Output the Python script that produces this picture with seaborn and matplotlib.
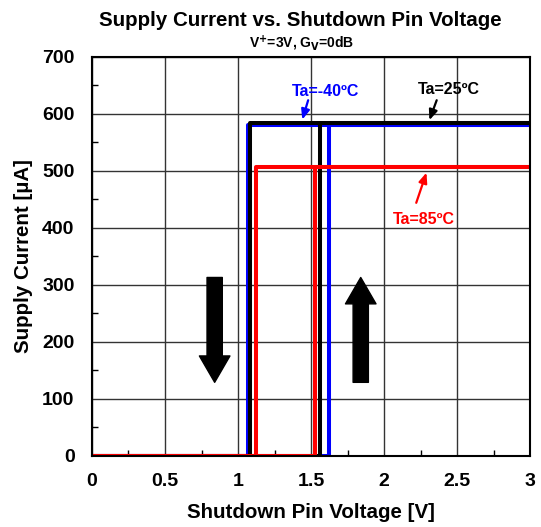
import matplotlib
matplotlib.use("Agg")
import matplotlib.pyplot as plt
from matplotlib.patches import FancyArrowPatch, ArrowStyle
from matplotlib.ticker import MultipleLocator
import numpy as np
import pandas as pd
import seaborn as sns

# Hysteresis data per ambient temperature
temps = ["Ta=-40ºC", "Ta=25ºC", "Ta=85ºC"]
colors = ["#0000FF", "#000000", "#FF0000"]
v_turn_on = [1.62, 1.56, 1.53]     # rising sweep threshold [V]
v_turn_off = [1.07, 1.08, 1.12]    # falling sweep threshold [V]
i_active = [580, 584, 506]         # supply current when enabled [uA]
i_shutdown = [0, 0, 0]             # supply current in shutdown [uA]
v_start, v_end = 0.0, 3.0

x_ticks = [0, 0.5, 1, 1.5, 2, 2.5, 3]
x_ticklabels = ["0", "0.5", "1", "1.5", "2", "2.5", "3"]
y_ticks = [0, 100, 200, 300, 400, 500, 600, 700]

rows = []
for t, von, voff, ion, ioff in zip(temps, v_turn_on, v_turn_off, i_active, i_shutdown):
    # sweep up from v_start to v_end, then back down
    vs = [v_start, von, von, v_end, voff, voff, v_start]
    cs = [ioff, ioff, ion, ion, ion, ioff, ioff]
    for k, (v, c) in enumerate(zip(vs, cs)):
        rows.append({"temp": t, "step": k, "voltage": v, "current": c})
df = pd.DataFrame(rows)

sns.set_style("white")
plt.rcParams["font.family"] = ["Liberation Sans", "DejaVu Sans"]
plt.rcParams["font.weight"] = "bold"
plt.rcParams["text.color"] = "black"
plt.rcParams["axes.labelcolor"] = "black"
plt.rcParams["xtick.color"] = "black"
plt.rcParams["ytick.color"] = "black"

fig = plt.figure(figsize=(5.41, 5.27), dpi=100)
ax = fig.add_axes([0.170, 0.135, 0.810, 0.757])

sns.lineplot(data=df, x="voltage", y="current", hue="temp", hue_order=temps,
             palette=colors, sort=False, estimator=None, units="temp",
             linewidth=2.9, legend=False, ax=ax)

ax.set_xlim(0, 3)
ax.set_ylim(0, 700)
ax.set_xticks(x_ticks)
ax.set_xticklabels(x_ticklabels)
ax.set_yticks(y_ticks)
ax.xaxis.set_minor_locator(MultipleLocator(0.25))
ax.yaxis.set_minor_locator(MultipleLocator(50))
ax.grid(True, which="major", color="#333333", linewidth=1.0)
ax.set_axisbelow(True)
for s in ax.spines.values():
    s.set_color("black")
    s.set_linewidth(1.5)
    s.set_zorder(3)
ax.tick_params(axis="both", which="major", direction="in", length=0,
               labelsize=14, pad=12.5)
ax.tick_params(axis="y", which="major", pad=12.5)
ax.tick_params(axis="both", which="minor", direction="in", length=4,
               width=1, color="black", bottom=True, left=True)
for lab in ax.get_xticklabels() + ax.get_yticklabels():
    lab.set_fontweight("bold")

ax.set_xlabel("Shutdown Pin Voltage [V]", fontsize=14.8, fontweight="bold", labelpad=9)
ax.set_ylabel("Supply Current [µA]", fontsize=14.8, fontweight="bold", labelpad=7)

fig.text(0.555, 0.962, "Supply Current vs. Shutdown Pin Voltage",
         ha="center", va="center", fontsize=14.8, fontweight="bold")
fig.text(0.557, 0.918, r"V$^{\mathbf{+}}$=3V, G$_{\mathbf{V}}$=0dB",
         ha="center", va="center", fontsize=10, fontweight="bold")

# Temperature callouts
callouts = [
    ("Ta=-40ºC", colors[0], (1.60, 640), (1.48, 624), (1.44, 590)),
    ("Ta=25ºC", colors[1], (2.44, 642), (2.36, 624), (2.31, 589)),
    ("Ta=85ºC", colors[2], (2.27, 414), (2.22, 444), (2.29, 497)),
]
for label, col, txt_xy, tail, head in callouts:
    ax.text(*txt_xy, label, color=col, fontsize=11.5, fontweight="bold",
            ha="center", va="center")
    ax.add_patch(FancyArrowPatch(tail, head, arrowstyle="-|>,head_length=6,head_width=2.5",
                                 mutation_scale=1, color=col, linewidth=1.6,
                                 shrinkA=0, shrinkB=0, zorder=5))

# Sweep direction arrows
big = ArrowStyle.Simple(head_length=19, head_width=22, tail_width=11)
ax.add_patch(FancyArrowPatch((0.84, 313), (0.84, 129), arrowstyle=big,
                             mutation_scale=1, color="black", shrinkA=0, shrinkB=0, zorder=5))
ax.add_patch(FancyArrowPatch((1.84, 129), (1.84, 313), arrowstyle=big,
                             mutation_scale=1, color="black", shrinkA=0, shrinkB=0, zorder=5))

fig.savefig("out.png", dpi=100, facecolor="white")
